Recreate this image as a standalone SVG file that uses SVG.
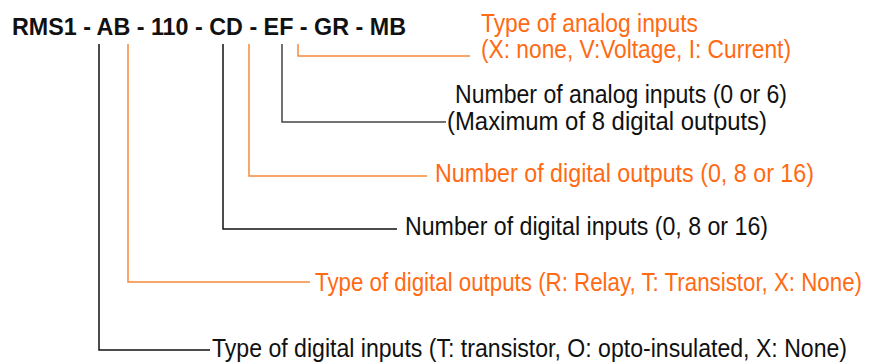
<svg xmlns="http://www.w3.org/2000/svg" width="876" height="364" viewBox="0 0 876 364">
<style>
text{font-family:"Liberation Sans",Arial,sans-serif;font-size:21px}
.t{font-weight:bold;fill:#111}
.b{fill:#111}
.o{fill:#FF6A13}
.lb{fill:none;stroke:#111;stroke-width:1.5}
.lg{fill:none;stroke:#444;stroke-width:1.5}
.lo{fill:none;stroke:#F7893B;stroke-width:1.5}
</style>
<rect width="876" height="364" fill="#fff"/>
<g id="code"><text class="t" transform="translate(12,35) scale(1,1.17)" textLength="394" lengthAdjust="spacingAndGlyphs">RMS1 - AB - 110 - CD - EF - GR - MB</text></g>
<g id="connectors">
<path class="lb" d="M99 44V350H210"/>
<path class="lo" d="M128 44V282H310"/>
<path class="lb" d="M223 44V229H397"/>
<path class="lo" d="M249 44V176H427"/>
<path class="lg" d="M282 44V122H446"/>
<path class="lo" d="M298 44V56H470"/>
</g>
<g id="analog-type">
<text class="o" transform="translate(481,32) scale(1,1.22)" textLength="217" lengthAdjust="spacingAndGlyphs">Type of analog inputs</text>
<text class="o" transform="translate(481,58) scale(1,1.22)" textLength="310" lengthAdjust="spacingAndGlyphs">(X: none, V:Voltage, I: Current)</text>
</g>
<g id="analog-num">
<text class="b" transform="translate(455,103) scale(1,1.22)" textLength="332" lengthAdjust="spacingAndGlyphs">Number of analog inputs (0 or 6)</text>
<text class="b" transform="translate(447,130) scale(1,1.22)" textLength="320" lengthAdjust="spacingAndGlyphs">(Maximum of 8 digital outputs)</text>
</g>
<g id="dout-num"><text class="o" transform="translate(435,182) scale(1,1.22)" textLength="379" lengthAdjust="spacingAndGlyphs">Number of digital outputs (0, 8 or 16)</text></g>
<g id="din-num"><text class="b" transform="translate(405,235) scale(1,1.22)" textLength="363" lengthAdjust="spacingAndGlyphs">Number of digital inputs (0, 8 or 16)</text></g>
<g id="dout-type"><text class="o" transform="translate(315,291) scale(1,1.22)" textLength="547" lengthAdjust="spacingAndGlyphs">Type of digital outputs (R: Relay, T: Transistor, X: None)</text></g>
<g id="din-type"><text class="b" transform="translate(212,357) scale(1,1.22)" textLength="635" lengthAdjust="spacingAndGlyphs">Type of digital inputs (T: transistor, O: opto-insulated, X: None)</text></g>
</svg>
